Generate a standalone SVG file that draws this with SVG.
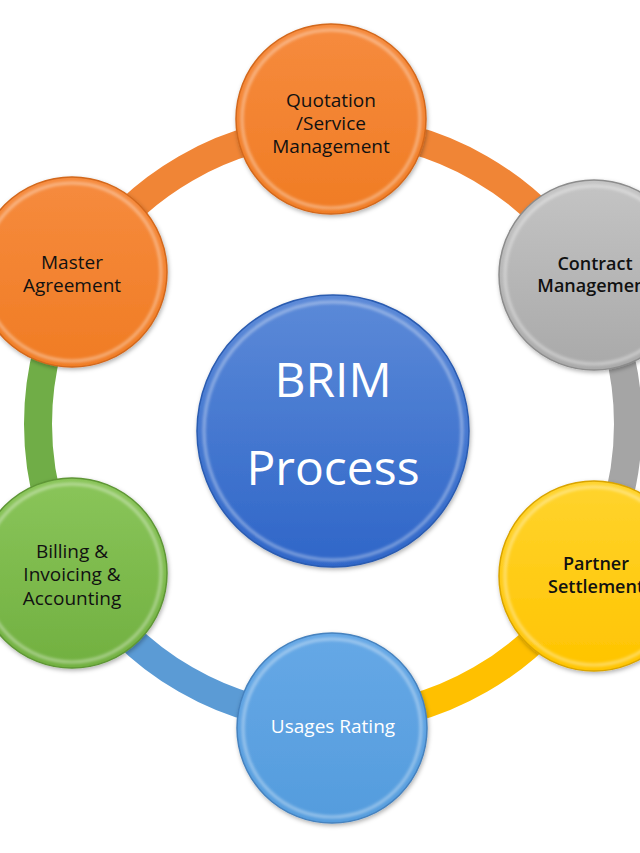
<svg xmlns="http://www.w3.org/2000/svg" width="640" height="853" viewBox="0 0 640 853">
<defs>
<linearGradient id="gOrange" x1="0" y1="0" x2="0" y2="1"><stop offset="0" stop-color="#F68B3E"/><stop offset="1" stop-color="#F07C24"/></linearGradient>
<linearGradient id="gGray" x1="0" y1="0" x2="0" y2="1"><stop offset="0" stop-color="#C4C4C4"/><stop offset="1" stop-color="#A9A9A9"/></linearGradient>
<linearGradient id="gYellow" x1="0" y1="0" x2="0" y2="1"><stop offset="0" stop-color="#FFD42E"/><stop offset="1" stop-color="#FFC400"/></linearGradient>
<linearGradient id="gBlue" x1="0" y1="0" x2="0" y2="1"><stop offset="0" stop-color="#66A8E6"/><stop offset="1" stop-color="#549CDD"/></linearGradient>
<linearGradient id="gGreen" x1="0" y1="0" x2="0" y2="1"><stop offset="0" stop-color="#8AC55A"/><stop offset="1" stop-color="#71B040"/></linearGradient>
<linearGradient id="gCenter" x1="0" y1="0" x2="0" y2="1"><stop offset="0" stop-color="#5C8AD8"/><stop offset="1" stop-color="#2F66C8"/></linearGradient>
<filter id="shadow" x="-20%" y="-20%" width="140%" height="140%"><feDropShadow dx="1" dy="2" stdDeviation="2" flood-color="#000" flood-opacity="0.3"/></filter>
<filter id="soft" x="-10%" y="-10%" width="120%" height="120%"><feGaussianBlur stdDeviation="1.5"/></filter>
</defs>
<style>
.arc{fill:none;stroke-width:28}
.rim{fill:none;stroke:#FFFFFF;stroke-opacity:0.4;stroke-width:3}
.lbl{font-family:"Open Sans","Liberation Sans",sans-serif;font-size:19px;fill:#111;text-anchor:middle}
.bold{font-weight:600;font-size:18px}
.white{fill:#FFFFFF}
.big{font-family:"Open Sans","Liberation Sans",sans-serif;font-size:48px;fill:#FFFFFF;text-anchor:middle}
</style>
<g id="connectors">
<path class="arc" stroke="#F08536" d="M 77.52 276.5 A 295 295 0 0 1 333 129"/>
<path class="arc" stroke="#F08536" d="M 333 129 A 295 295 0 0 1 588.48 276.5"/>
<path class="arc" stroke="#A5A5A5" d="M 588.48 276.5 A 295 295 0 0 1 588.48 571.5"/>
<path class="arc" stroke="#FFC000" d="M 588.48 571.5 A 295 295 0 0 1 333 719"/>
<path class="arc" stroke="#5B9BD5" d="M 333 719 A 295 295 0 0 1 77.52 571.5"/>
<path class="arc" stroke="#70AD47" d="M 77.52 571.5 A 295 295 0 0 1 77.52 276.5"/>
</g>
<g id="center">
<circle cx="333" cy="431" r="136" fill="url(#gCenter)" stroke="#2A5BB0" stroke-width="1.5" filter="url(#shadow)"/>
<circle class="rim" cx="333" cy="431" r="129" filter="url(#soft)"/>
<text class="big" x="333" y="397">BRIM</text>
<text class="big" x="333" y="485">Process</text>
</g>
<g id="quotation">
<circle cx="331" cy="119" r="95" fill="url(#gOrange)" stroke="#D2681C" stroke-width="1.5" filter="url(#shadow)"/>
<circle class="rim" cx="331" cy="119" r="89" filter="url(#soft)"/>
<text class="lbl" x="331" y="107">Quotation</text>
<text class="lbl" x="331" y="130">/Service</text>
<text class="lbl" x="331" y="153">Management</text>
</g>
<g id="contract">
<circle cx="594" cy="275" r="95" fill="url(#gGray)" stroke="#8C8C8C" stroke-width="1.5" filter="url(#shadow)"/>
<circle class="rim" cx="594" cy="275" r="89" filter="url(#soft)"/>
<text class="lbl bold" x="595" y="270">Contract</text>
<text class="lbl bold" x="595" y="292">Management</text>
</g>
<g id="partner">
<circle cx="594" cy="576" r="95" fill="url(#gYellow)" stroke="#D9A400" stroke-width="1.5" filter="url(#shadow)"/>
<circle class="rim" cx="594" cy="576" r="89" filter="url(#soft)"/>
<text class="lbl bold" x="596" y="570">Partner</text>
<text class="lbl bold" x="596" y="593">Settlement</text>
</g>
<g id="usages">
<circle cx="332" cy="728" r="95" fill="url(#gBlue)" stroke="#4682BE" stroke-width="1.5" filter="url(#shadow)"/>
<circle class="rim" cx="332" cy="728" r="89" filter="url(#soft)"/>
<text class="lbl white" x="333" y="733">Usages Rating</text>
</g>
<g id="billing">
<circle cx="72" cy="573" r="95" fill="url(#gGreen)" stroke="#5E9636" stroke-width="1.5" filter="url(#shadow)"/>
<circle class="rim" cx="72" cy="573" r="89" filter="url(#soft)"/>
<text class="lbl" x="72" y="558">Billing &amp;</text>
<text class="lbl" x="72" y="581">Invoicing &amp;</text>
<text class="lbl" x="72" y="605">Accounting</text>
</g>
<g id="master">
<circle cx="72" cy="272" r="95" fill="url(#gOrange)" stroke="#D2681C" stroke-width="1.5" filter="url(#shadow)"/>
<circle class="rim" cx="72" cy="272" r="89" filter="url(#soft)"/>
<text class="lbl" x="72" y="269">Master</text>
<text class="lbl" x="72" y="292">Agreement</text>
</g>
</svg>
